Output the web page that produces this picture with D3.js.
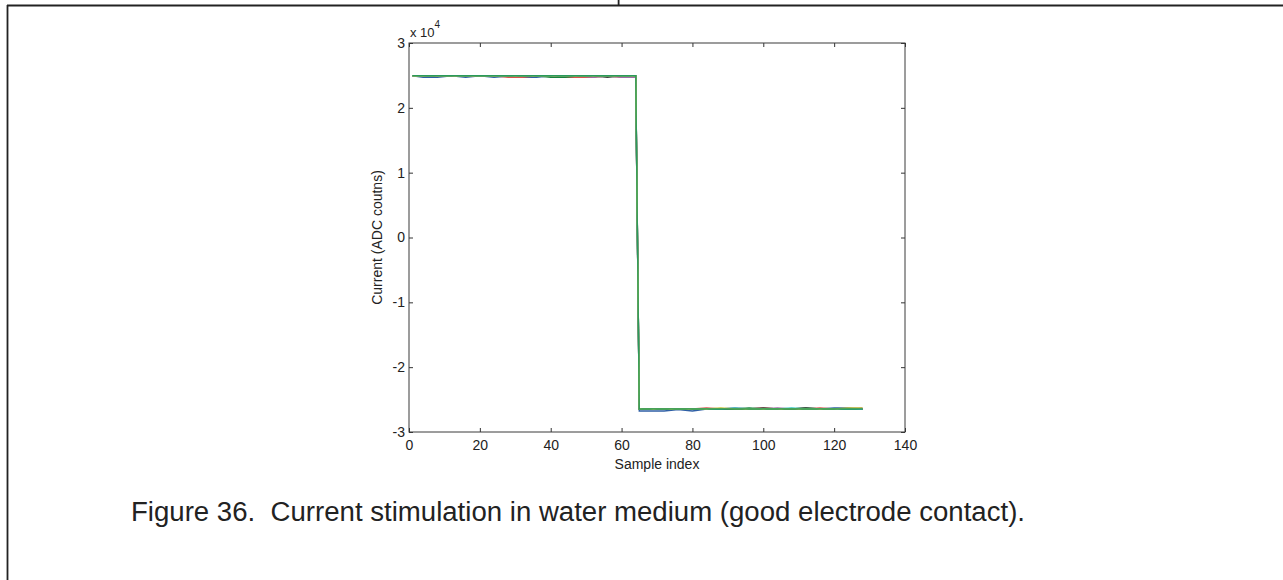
<!DOCTYPE html>
<html>
<head>
<meta charset="utf-8">
<script src="https://cdn.jsdelivr.net/npm/d3@7"></script>
<style>
body { margin: 0; background: #fff; }
svg { display: block; }
text { font-family: "Liberation Sans", Arial, sans-serif; fill: #222; }
.tick line { stroke: #333; }
.domain { stroke: none; }
</style>
</head>
<body>
<script>
//tick labels
var xTicks = [0, 20, 40, 60, 80, 100, 120, 140];
var yTicks = [-30000, -20000, -10000, 0, 10000, 20000, 30000];

//main (green) trace, samples 1-64 then 65-128
var greenUpper = [
  24960, 24955, 24950, 24955, 24950, 24945, 24950, 24955, 24950, 24950, 24945, 24950, 24955, 24950, 24950, 24945,
  24950, 24955, 24950, 24950, 24950, 24945, 24950, 24955, 24950, 24950, 24945, 24950, 24950, 24955, 24950, 24950,
  24945, 24950, 24955, 24950, 24950, 24945, 24950, 24950, 24955, 24950, 24950, 24945, 24950, 24950, 24955, 24950,
  24945, 24950, 24950, 24955, 24950, 24950, 24945, 24950, 24950, 24955, 24950, 24945, 24950, 24950, 24955, 24950];
var greenLower = [
  -26460, -26455, -26450, -26450, -26445, -26450, -26455, -26450, -26450, -26445, -26450, -26455, -26450, -26450, -26445, -26450,
  -26450, -26455, -26450, -26445, -26450, -26450, -26455, -26450, -26445, -26450, -26450, -26455, -26450, -26450, -26445, -26450,
  -26455, -26450, -26450, -26445, -26450, -26455, -26450, -26450, -26445, -26450, -26450, -26455, -26450, -26445, -26450, -26450,
  -26455, -26450, -26450, -26445, -26450, -26450, -26455, -26450, -26445, -26450, -26450, -26455, -26450, -26450, -26445, -26440];

//other traces, read at coarser sample positions (mostly hidden under the green one)
var coarseIdx = [1, 4, 8, 12, 16, 20, 24, 28, 32, 36, 40, 44, 48, 52, 56, 60, 64,
                 65, 68, 72, 76, 80, 84, 88, 92, 96, 100, 104, 108, 112, 116, 120, 124, 128];
var blueTrace = [24950, 24720, 24720, 24950, 24700, 24950, 24700, 24900, 24700, 24700, 24950, 24950, 24950, 24950, 24950, 24950, 24930,
  -26760, -26760, -26750, -26550, -26760, -26460, -26455, -26450, -26455, -26450, -26455, -26450, -26450, -26455, -26300, -26300, -26450];
var redTrace = [24950, 24950, 24950, 24950, 24950, 24950, 24950, 24700, 24720, 24950, 24950, 24700, 24700, 24720, 24950, 24720, 24700,
  -26450, -26450, -26450, -26450, -26450, -26300, -26450, -26450, -26450, -26300, -26450, -26450, -26450, -26300, -26450, -26450, -26450];
var purpleTrace = [24950, 24950, 24950, 24950, 24950, 24950, 24950, 24950, 24950, 24950, 24950, 24950, 24950, 24710, 24950, 24720, 24700,
  -26450, -26450, -26450, -26450, -26450, -26450, -26450, -26300, -26450, -26450, -26300, -26450, -26450, -26450, -26450, -26450, -26300];
var darkGreenTrace = [24950, 24950, 24950, 24950, 24950, 24950, 24950, 24950, 24950, 24950, 24720, 24720, 24950, 24950, 24950, 24950, 24950,
  -26450, -26450, -26450, -26450, -26450, -26450, -26450, -26450, -26300, -26450, -26450, -26450, -26300, -26450, -26450, -26450, -26450];
var grayTrace = [24950, 24950, 24950, 24950, 24950, 24950, 24950, 24950, 24950, 24950, 24950, 24950, 24950, 24950, 24720, 24950, 24950,
  -26450, -26450, -26450, -26450, -26450, -26450, -26450, -26450, -26450, -26300, -26450, -26450, -26300, -26450, -26450, -26450, -26450];
var cyanTrace = [24950, 24950, 24950, 24950, 24950, 24950, 24950, 24950, 24950, 24950, 24950, 24950, 24950, 24950, 24950, 24950, 24950,
  -26450, -26450, -26450, -26450, -26450, -26450, -26450, -26300, -26450, -26450, -26450, -26300, -26450, -26450, -26450, -26450, -26450];
var yellowTrace = [24950, 24950, 24950, 24950, 24950, 24950, 24950, 24950, 24950, 24950, 24950, 24950, 24950, 24950, 24950, 24950, 24950,
  -26450, -26450, -26450, -26450, -26450, -26450, -26300, -26450, -26450, -26450, -26450, -26450, -26450, -26450, -26450, -26300, -26300];

var traceColors = ["#2f5fa5", "#d9534f", "#a06aa8", "#17803d", "#3c3c3c", "#33c4c4", "#c9c23a"];
var hiddenTraces = [blueTrace, redTrace, purpleTrace, darkGreenTrace, grayTrace, cyanTrace, yellowTrace];

var caption = "Figure 36.  Current stimulation in water medium (good electrode contact).";

var width = 1283,
    height = 580;

var svg = d3.select("body").append("svg")
    .attr("width", width)
    .attr("height", height);

//page frame lines
svg.append("line").attr("x1", 7.5).attr("x2", 7.5).attr("y1", 5).attr("y2", height)
    .attr("stroke", "#222").attr("stroke-width", 1.8);
svg.append("line").attr("x1", 7).attr("x2", width).attr("y1", 5.6).attr("y2", 5.6)
    .attr("stroke", "#222").attr("stroke-width", 2);
svg.append("line").attr("x1", 618.6).attr("x2", 618.6).attr("y1", 0).attr("y2", 5.6)
    .attr("stroke", "#222").attr("stroke-width", 1.8);

//scales
var x = d3.scaleLinear().domain([0, 140]).range([409, 905]);
var y = d3.scaleLinear().domain([-30000, 30000]).range([432, 43]);

var plot = svg.append("g");

var fmt = function(d) { return d / 10000; };

plot.append("g")
    .attr("transform", "translate(0," + y(-30000) + ")")
    .call(d3.axisBottom(x).tickValues(xTicks).tickSize(-4).tickPadding(8))
    .call(function(g) { g.selectAll("text").style("font-size", "14px").attr("fill", "#222"); });
plot.append("g")
    .attr("transform", "translate(0," + y(30000) + ")")
    .call(d3.axisTop(x).tickValues(xTicks).tickSize(-4).tickFormat(""));
plot.append("g")
    .attr("transform", "translate(" + x(0) + ",0)")
    .call(d3.axisLeft(y).tickValues(yTicks).tickSize(-4).tickPadding(4).tickFormat(fmt))
    .call(function(g) { g.selectAll("text").style("font-size", "14px").attr("fill", "#222"); });
plot.append("g")
    .attr("transform", "translate(" + x(140) + ",0)")
    .call(d3.axisRight(y).tickValues(yTicks).tickSize(-4).tickFormat(""));

//box
plot.append("rect")
    .attr("x", x(0)).attr("y", y(30000))
    .attr("width", x(140) - x(0)).attr("height", y(-30000) - y(30000))
    .attr("fill", "none").attr("stroke", "#3a3a3a").attr("stroke-width", 1);

//traces
var line = d3.line()
    .x(function(d) { return x(d[0]); })
    .y(function(d) { return y(d[1]); });

hiddenTraces.forEach(function(vals, i) {
    plot.append("path")
        .datum(coarseIdx.map(function(s, j) { return [s, vals[j]]; }))
        .attr("fill", "none")
        .attr("stroke", traceColors[i])
        .attr("stroke-width", 1.4)
        .attr("d", line);
});

var greenVals = greenUpper.concat(greenLower);
plot.append("path")
    .datum(greenVals.map(function(v, i) { return [i + 1, v]; }))
    .attr("fill", "none")
    .attr("stroke", "#2a9a5c")
    .attr("stroke-width", 1.3)
    .attr("d", line);

//exponent label
var expo = svg.append("text")
    .attr("x", 410).attr("y", 37)
    .style("font-size", "13px");
expo.append("tspan").text("x 10");
expo.append("tspan").attr("dy", -9).style("font-size", "10px").text("4");

//axis labels
svg.append("text")
    .attr("transform", "translate(382," + y(0) + ") rotate(-90)")
    .attr("text-anchor", "middle")
    .style("font-size", "14px")
    .text("Current (ADC coutns)");

svg.append("text")
    .attr("x", x(70)).attr("y", 469)
    .attr("text-anchor", "middle")
    .style("font-size", "14px")
    .text("Sample index");

//caption
svg.append("text")
    .attr("x", 131).attr("y", 521)
    .style("font-size", "27px")
    .style("white-space", "pre")
    .attr("textLength", 894)
    .attr("lengthAdjust", "spacingAndGlyphs")
    .text(caption);
</script>
</body>
</html>
